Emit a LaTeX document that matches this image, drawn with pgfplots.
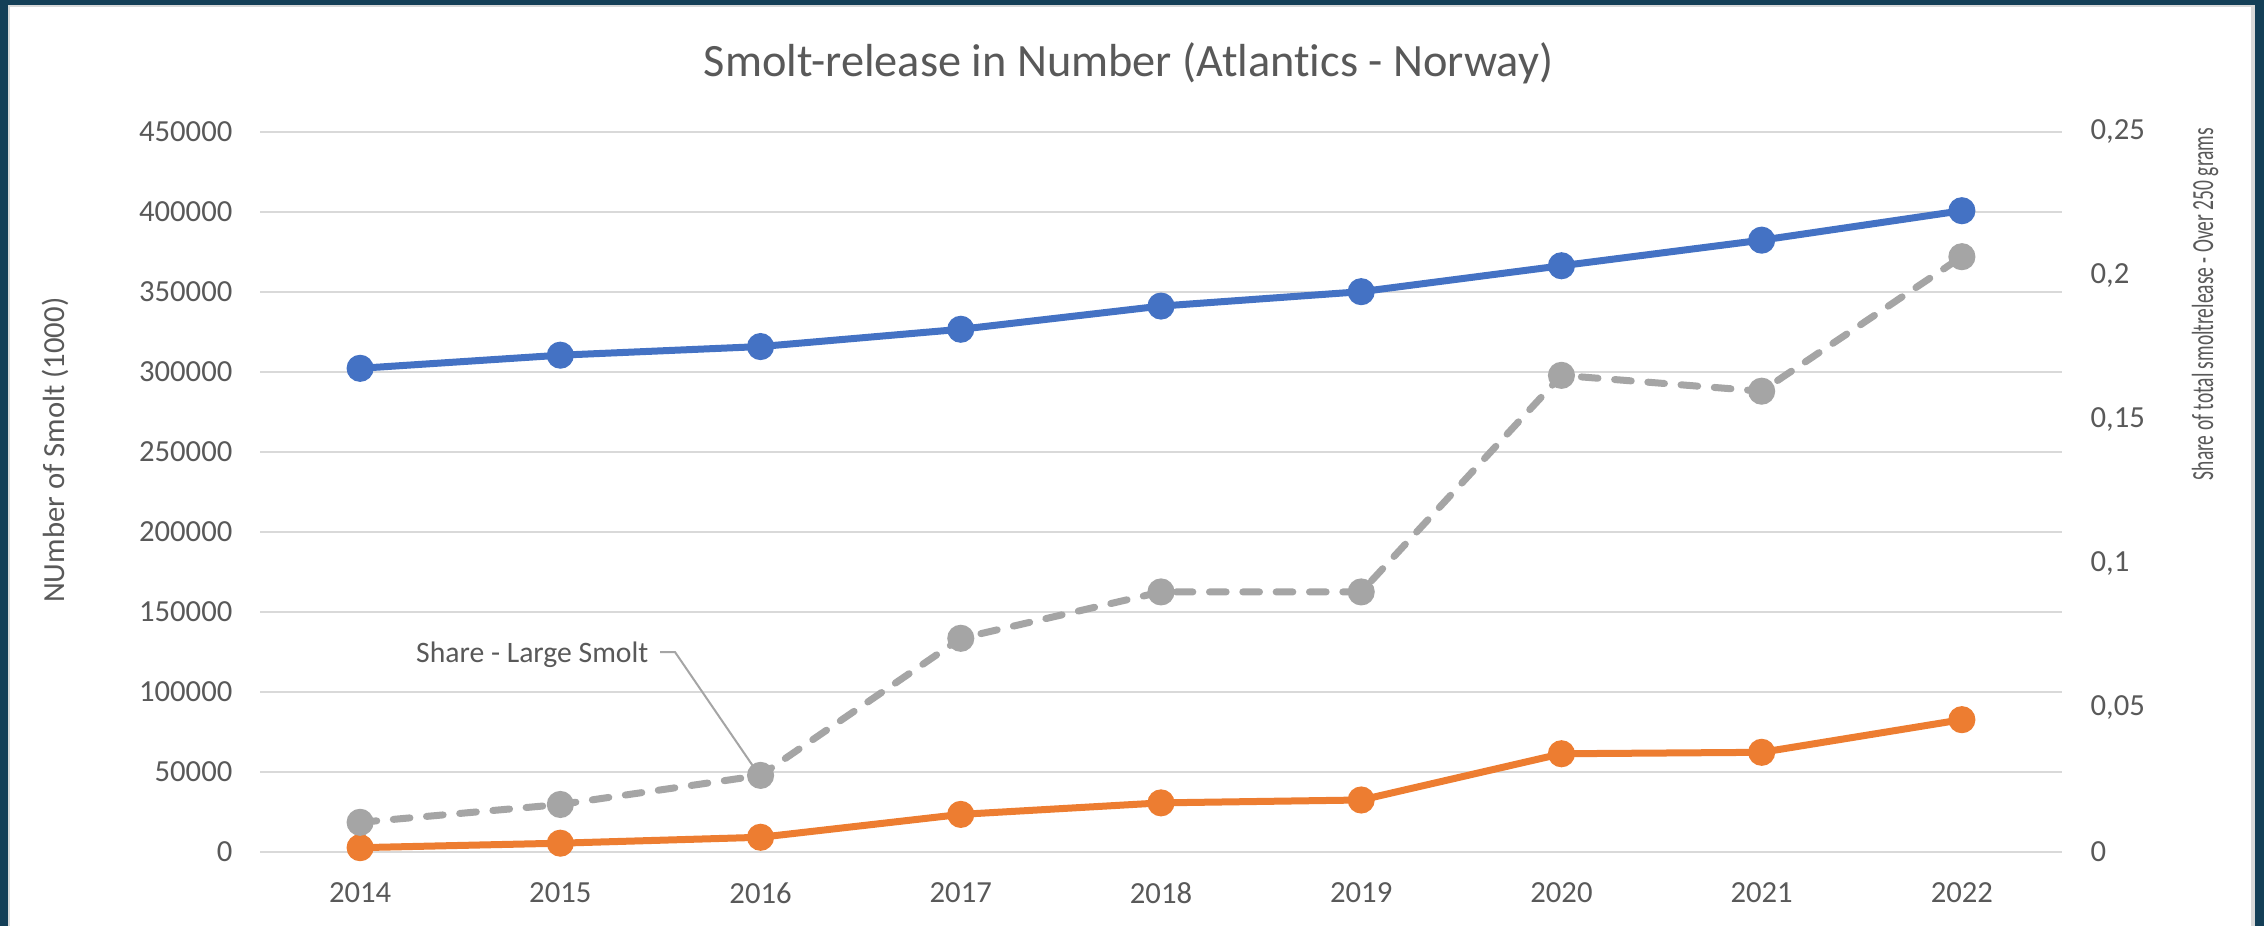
\documentclass[border=0pt]{standalone}
\usepackage{pgfplots}
\pgfplotsset{compat=1.18}
\usepackage{fontspec}
\setmainfont{Carlito}[Ligatures=NoCommon]

\definecolor{frame}{HTML}{143F57}
\definecolor{frameline}{HTML}{D9D9D9}
\definecolor{txt}{HTML}{595959}
\definecolor{gridc}{HTML}{D9D9D9}
\definecolor{cblue}{HTML}{4472C4}
\definecolor{corange}{HTML}{ED7D31}
\definecolor{cgray}{HTML}{A5A5A5}

\newcommand{\tickfont}{\fontsize{9.2}{11}\selectfont}

\pgfplotsset{
  smolt/.style={
    scale only axis,
    width=540.6pt, height=216pt,
    at={(78pt,22.2pt)}, anchor=south west,
    xmin=2013.5, xmax=2022.5,
    axis line style={draw=none},
    major tick length=0pt,
    tick label style={font=\tickfont, text=txt},
    /pgf/number format/assume math mode=true,
  },
}

\begin{document}
\begin{tikzpicture}
% frame round the chart
\fill[frame] (0,0) rectangle (679.2pt,277.8pt);
\fill[frameline] (2.4pt,0) rectangle (676.5pt,276.3pt);
\fill[white] (3pt,0) rectangle (675.3pt,275.7pt);

\begin{axis}[smolt,
  ymin=0, ymax=450000,
  ytick={0,50000,100000,150000,200000,250000,300000,350000,400000,450000},
  scaled y ticks=false,
  yticklabel style={/pgf/number format/fixed, /pgf/number format/1000 sep={},
    anchor=east, inner sep=0pt, xshift=-8.1pt},
  xtick={2014,2015,2016,2017,2018,2019,2020,2021,2022},
  xticklabels={2014,2015,2016,2017,2018,2019,2020,2021,2022},
  xticklabel style={anchor=north, inner sep=0pt, yshift=-9pt},
  ymajorgrids,
  major grid style={gridc, line width=0.75pt},
  title={Smolt-release in Number (Atlantics - Norway)},
  title style={at={(axis description cs:0.482,1.093)}, anchor=center, yshift=-5.6pt,
    font=\fontsize{13.9}{16}\selectfont, text=txt},
  ylabel={NUmber of Smolt (1000)},
  ylabel style={at={(axis description cs:-0.1138,0.558)}, anchor=center,
    rotate=0, font=\tickfont, text=txt},
]
% all smolt released
\addplot[cblue, line width=2.1pt, mark=*, mark size=3pt] coordinates {
(2014,302300) (2015,310500) (2016,315900) (2017,326700) (2018,341200)
(2019,350200) (2020,366400) (2021,382400) (2022,400800)
};
% large smolt
\addplot[corange, line width=2.1pt, mark=*, mark size=3pt] coordinates {
(2014,2700) (2015,5500) (2016,9200) (2017,23500) (2018,30700)
(2019,32500) (2020,61400) (2021,62300) (2022,82700)
};
\end{axis}

\begin{axis}[smolt,
  axis y line*=right,
  axis x line=none,
  ymin=0, ymax=0.25,
  ytick={0,0.05,0.1,0.15,0.2,0.25},
  yticklabel style={/pgf/number format/fixed, /pgf/number format/use comma,
    /pgf/number format/precision=2,
    anchor=west, inner sep=0pt, xshift=8.4pt},
  ylabel={\scalebox{0.636}[1]{Share of total smoltrelease - Over 250 grams}},
  ylabel style={at={(axis description cs:1.0794,0.761)}, anchor=center,
    font=\tickfont, text=txt},
  clip=false,
]
% share of large smolt
\addplot[cgray, line width=2.1pt, line cap=round, dash pattern=on 5pt off 5pt,
  mark=*, mark size=3pt, mark options={solid}] coordinates {
(2014,0.0103) (2015,0.0165) (2016,0.0266) (2017,0.0742) (2018,0.0903)
(2019,0.0903) (2020,0.1655) (2021,0.1600) (2022,0.2067)
};
\node[anchor=east, inner sep=0pt, text=txt, font=\fontsize{8.9}{10}\selectfont]
  at (axis cs:2015.443,0.0684) {Share - Large Smolt};
\draw[cgray, line width=0.6pt] (axis cs:2015.498,0.0694) -- (axis cs:2015.573,0.0694)
  -- (axis cs:2015.99,0.0270);
\end{axis}
\end{tikzpicture}
\end{document}
